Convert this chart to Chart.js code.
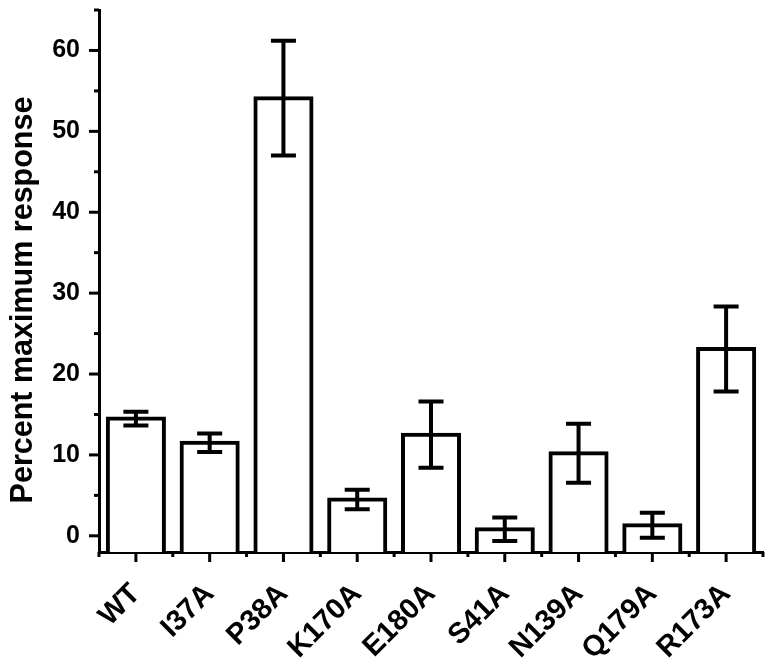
<!DOCTYPE html>
<html><head><meta charset="utf-8">
<script src="https://cdn.jsdelivr.net/npm/chart.js@4"></script>
<style>html,body{margin:0;padding:0;background:#fff}#wrap{width:773px;height:666px}</style>
</head><body><div id="wrap"><canvas id="c" width="773" height="666"></canvas></div>
<script>
const categories = ['WT', 'I37A', 'P38A', 'K170A', 'E180A', 'S41A', 'N139A', 'Q179A', 'R173A'];
const means = [14.5, 11.5, 54.1, 4.5, 12.5, 0.8, 10.2, 1.3, 23.1];
const errors = [0.85, 1.15, 7.1, 1.2, 4.1, 1.45, 3.65, 1.55, 5.25];
const yTickValues = [0, 10, 20, 30, 40, 50, 60];
const yMinorValues = [5, 15, 25, 35, 45, 55, 65];
const yTitle = 'Percent maximum response';

const FONT = '"Liberation Sans", Arial, sans-serif';

const customPlugin = {
  id: 'custom',
  afterDatasetsDraw(chart) {
    const ctx = chart.ctx, ys = chart.scales.y, meta = chart.getDatasetMeta(0);
    ctx.save();
    ctx.strokeStyle = '#000'; ctx.lineWidth = 4; ctx.lineCap = 'butt';
    meta.data.forEach((bar, i) => {
      const x = bar.x;
      const yt = ys.getPixelForValue(means[i] + errors[i]);
      const yb = ys.getPixelForValue(means[i] - errors[i]);
      ctx.beginPath();
      ctx.moveTo(x, yt); ctx.lineTo(x, yb);
      ctx.moveTo(x - 12.5, yt); ctx.lineTo(x + 12.5, yt);
      ctx.moveTo(x - 12.5, yb); ctx.lineTo(x + 12.5, yb);
      ctx.stroke();
    });
    ctx.restore();
  },
  afterDraw(chart) {
    const ctx = chart.ctx, xs = chart.scales.x, ys = chart.scales.y, ca = chart.chartArea;
    ctx.save();
    ctx.strokeStyle = '#000'; ctx.lineWidth = 3; ctx.lineCap = 'butt';
    const ln = (x1, y1, x2, y2) => { ctx.beginPath(); ctx.moveTo(x1, y1); ctx.lineTo(x2, y2); ctx.stroke(); };
    yTickValues.forEach(v => { const p = ys.getPixelForValue(v); ln(ca.left - 10, p, ca.left, p); });
    yMinorValues.forEach(v => { const p = ys.getPixelForValue(v); ln(ca.left - 5, p, ca.left, p); });
    categories.forEach((c, i) => {
      const p = xs.getPixelForValue(i);
      ln(p, ca.bottom, p, ca.bottom + 10);
    });
    for (let i = 0; i <= categories.length; i++) {
      const p = xs.getPixelForValue(i - 0.5);
      ln(p, ca.bottom, p, ca.bottom + 5);
    }
    // axis title
    ctx.fillStyle = '#000';
    ctx.font = 'bold 30.5px ' + FONT;
    ctx.translate(32, 300);
    ctx.rotate(-Math.PI / 2);
    ctx.textAlign = 'center';
    ctx.textBaseline = 'alphabetic';
    ctx.fillText(yTitle, 0, 0);
    ctx.restore();
  }
};

new Chart(document.getElementById('c'), {
  type: 'bar',
  data: {
    labels: categories,
    datasets: [{
      data: means,
      base: -2,
      backgroundColor: '#fff',
      borderColor: '#000',
      borderWidth: 4,
      inflateAmount: 2,
      categoryPercentage: 1,
      barPercentage: 0.76
    }]
  },
  options: {
    responsive: false,
    animation: false,
    layout: { padding: { left: 0, right: 10, top: 10, bottom: 0 } },
    plugins: { legend: { display: false }, tooltip: { enabled: false } },
    scales: {
      x: {
        grid: { display: false, drawTicks: false },
        border: { display: true, color: '#000', width: 3 },
        afterFit(scale) { scale.height = 114; scale.paddingLeft = 0; scale.paddingRight = 0; scale.paddingTop = 0; scale.paddingBottom = 0; },
        ticks: {
          color: '#000', autoSkip: false, maxRotation: 45, minRotation: 45, padding: 25,
          font: { family: FONT, size: 29, weight: 'bold' }
        }
      },
      y: {
        min: -2, max: 65,
        grid: { display: false, drawTicks: false },
        border: { display: true, color: '#000', width: 3 },
        afterFit(scale) { scale.width = 99; scale.paddingTop = 0; scale.paddingBottom = 0; scale.paddingLeft = 0; scale.paddingRight = 0; },
        afterBuildTicks(scale) { scale.ticks = yTickValues.map(v => ({ value: v })); },
        ticks: {
          color: '#000', padding: 19,
          font: { family: FONT, size: 25, weight: 'bold' }
        }
      }
    }
  },
  plugins: [customPlugin]
});
</script>
</body></html>
